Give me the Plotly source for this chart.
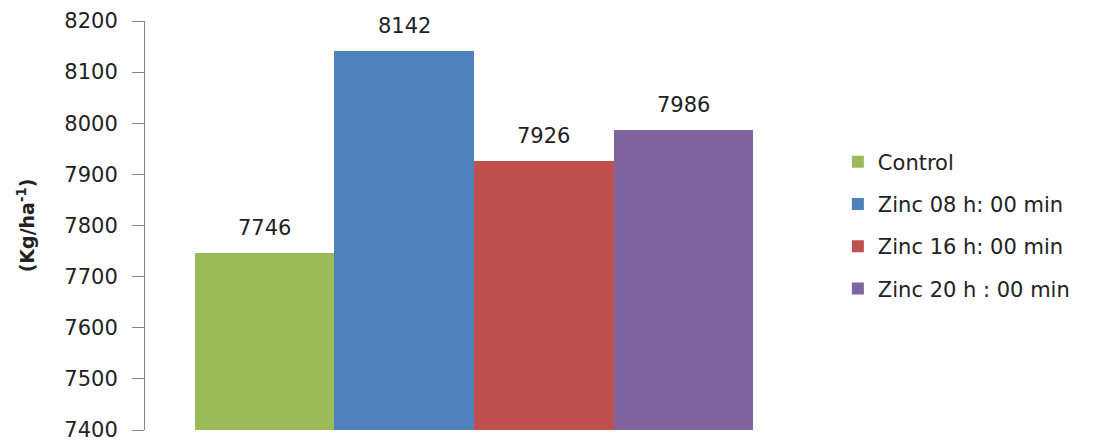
import plotly.graph_objects as go

series = ["Control", "Zinc 08 h: 00 min", "Zinc 16 h: 00 min", "Zinc 20 h : 00 min"]
values = [7746, 8142, 7926, 7986]
colors = ["#9BBB59", "#4F81BD", "#C0504D", "#8064A2"]
tick_vals = [7400, 7500, 7600, 7700, 7800, 7900, 8000, 8100, 8200]

FONT = "DejaVu Sans"
fig = go.Figure()
for i, (name, val, col) in enumerate(zip(series, values, colors)):
    fig.add_trace(go.Bar(
        x=[name], y=[val - 7400], base=7400, name=name,
        marker=dict(color=col, line=dict(width=0)),
        legendgroup=f"g{i}", hoverinfo="y",
    ))
    fig.add_annotation(x=name, y=val, text=str(val), showarrow=False,
                       yanchor="bottom", yshift=11,
                       font=dict(family=FONT, size=21, color="#222"))

pad = 0.358
fig.update_layout(
    width=1103, height=443,
    margin=dict(l=145, r=300, t=21, b=13),
    paper_bgcolor="white", plot_bgcolor="white",
    barmode="overlay", bargap=0,
    font=dict(family=FONT, size=21, color="#222"),
    showlegend=True,
    legend=dict(x=1.053, y=0.5, xanchor="left", yanchor="middle",
                font=dict(family=FONT, size=21, color="#222"),
                tracegroupgap=12, itemclick=False),
    xaxis=dict(showticklabels=False, showline=False, showgrid=False, zeroline=False,
               range=[-0.5 - pad, 3.5 + pad], automargin=False),
    yaxis=dict(range=[7400, 8200], tickvals=tick_vals, showgrid=False, zeroline=False,
               showline=True, linecolor="#868686", linewidth=1,
               ticks="outside", ticklen=12, tickcolor="#868686",
               ticklabelstandoff=10, ticklabeloverflow="allow", automargin=False,
               tickfont=dict(family=FONT, size=21, color="#222"),
               title=dict(text="<b>(Kg/ha<sup>-1</sup>)</b>", standoff=24,
                          font=dict(family=FONT, size=19, color="#222"))),
)
fig.write_html("out.html")
